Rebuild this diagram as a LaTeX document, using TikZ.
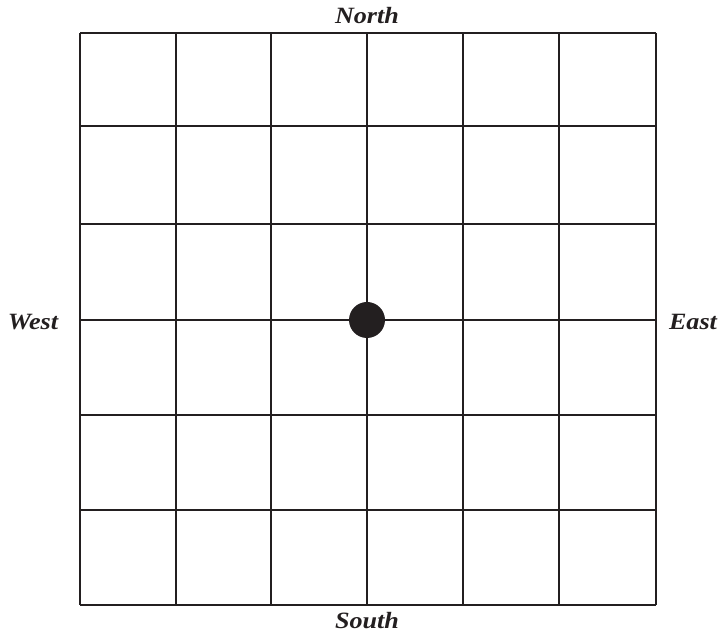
\documentclass[tikz,border=0pt]{standalone}
\usepackage{fontspec}
\setmainfont{Liberation Serif}
\newfontfamily\dirfont[FakeStretch=1.12]{Liberation Serif}
\definecolor{ink}{HTML}{231F20}
\begin{document}
\begin{tikzpicture}[x=0.75pt,y=-0.75pt,
  gridline/.style={draw=ink,line width=1.7pt},
  dir/.style={font=\dirfont\fontsize{17.5}{20}\selectfont\bfseries\itshape,text=ink,inner sep=0pt},
  dot/.style={circle,fill=ink,minimum size=27pt,inner sep=0pt}]
\useasboundingbox (0,0) rectangle (719,634);
\foreach \x in {80,176,271,367,463,559,656}
  \draw[gridline] (\x,33) -- (\x,605);
\foreach \y in {33,126,224,320,415,510,605}
  \draw[gridline] (80,\y) -- (656,\y);
\node[dot] (center) at (367,320) {};
\node[dir] (north) at (367,16) {North};
\node[dir] (south) at (367,621) {South};
\node[dir] (west) at (33,322) {West};
\node[dir] (east) at (693,322) {East};
\end{tikzpicture}
\end{document}
